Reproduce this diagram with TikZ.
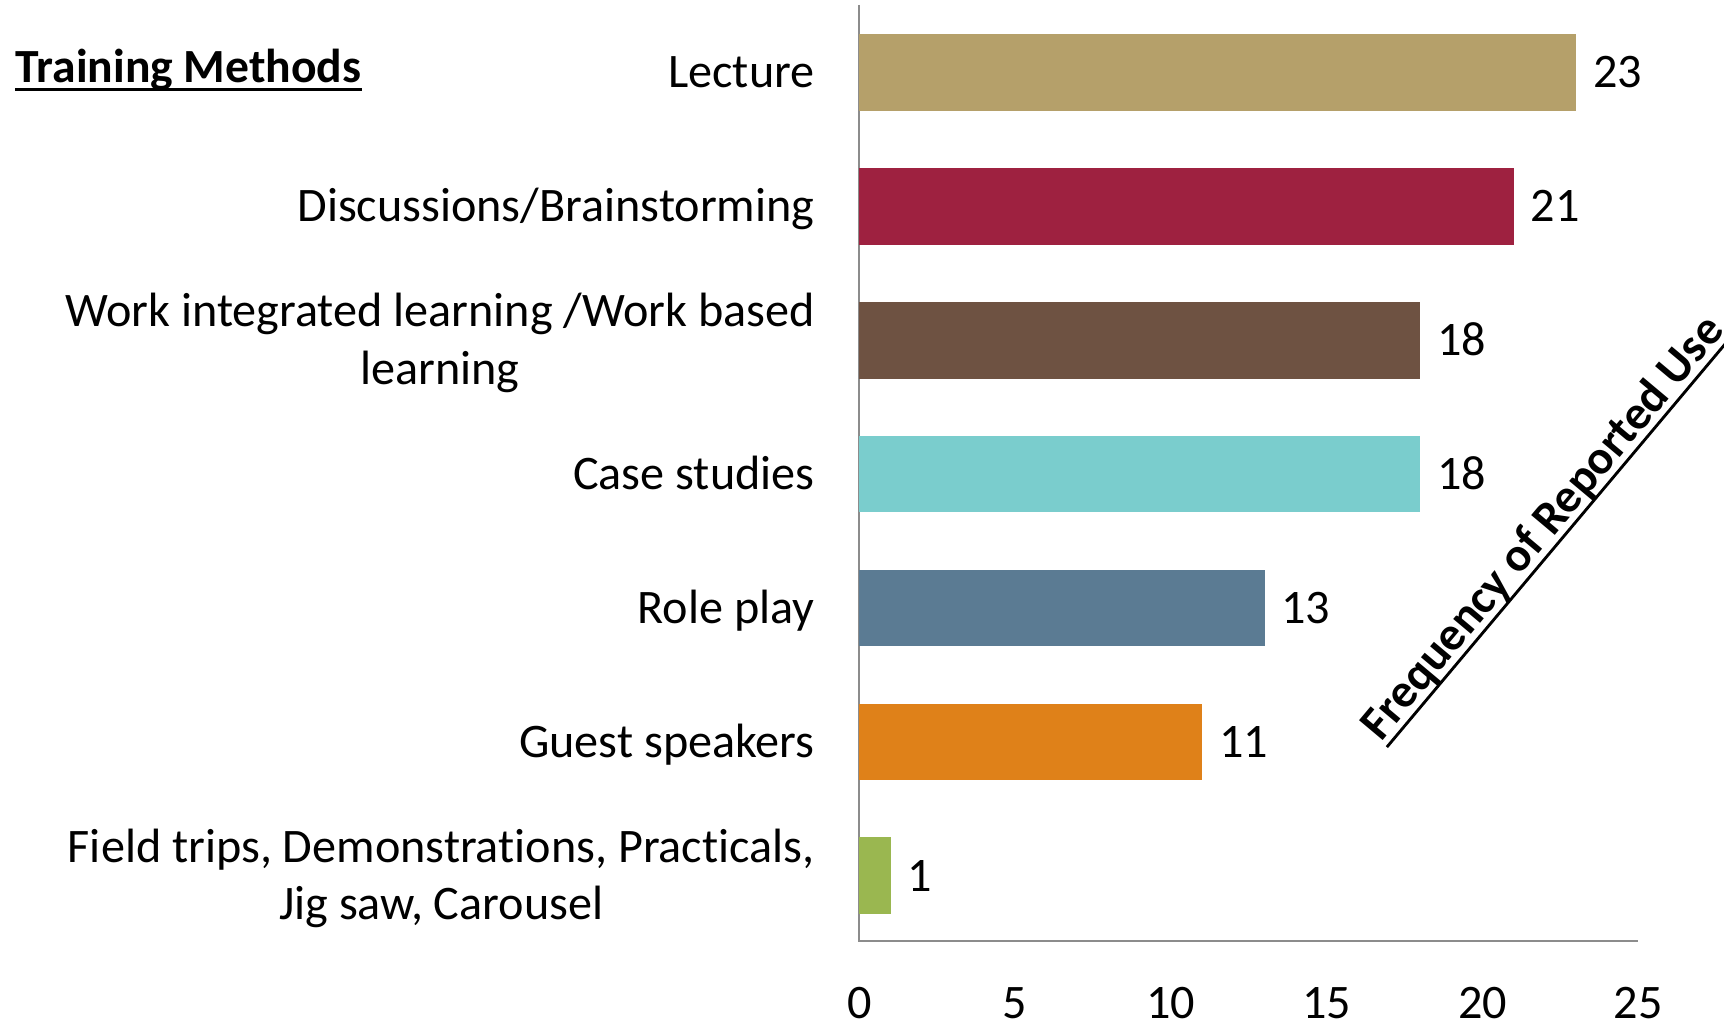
\documentclass[tikz,border=0pt]{standalone}
\usepackage{fontspec}
\setmainfont[Ligatures=NoCommon]{Carlito}
\newcommand{\lstrut}{\rule[-12pt]{0pt}{52pt}}
\newcommand{\fsz}{\fontsize{43.8}{52}\selectfont}
\newcommand{\fszb}{\fontsize{43.3}{52}\selectfont\bfseries}
\definecolor{cLect}{HTML}{B5A06A}
\definecolor{cDisc}{HTML}{9E2140}
\definecolor{cWil}{HTML}{6E5242}
\definecolor{cCase}{HTML}{7ACDCD}
\definecolor{cRole}{HTML}{5B7B93}
\definecolor{cGuest}{HTML}{DF8119}
\definecolor{cField}{HTML}{9AB750}
\definecolor{axisgray}{HTML}{8C8C8C}
\begin{document}
\begin{tikzpicture}[x=1pt,y=1pt,
  txt/.style={inner sep=0pt, font=\fsz},
  cat/.style={txt, anchor=east, align=center},
  val/.style={txt, anchor=west},
  tick/.style={txt, anchor=base},
  bar/.style={draw=none, inner sep=0pt, minimum height=69.8pt, anchor=west}]
\useasboundingbox (0,0) rectangle (1568,-929.5);
\clip (0,0) rectangle (1568,-929.5);
\fill[white] (0,0) rectangle (1568,-929.5);
% axes
\coordinate (atop) at (781.5,-4.5);
\coordinate (aorig) at (781.5,-856);
\coordinate (aend) at (1490,-856);
\draw[axisgray, line width=1.6pt] (atop) -- (aorig) -- (aend);
% bars
\node[bar, fill=cLect,  minimum width=651.8pt] (b1) at (781.5,-65.8) {};
\node[bar, fill=cDisc,  minimum width=595.1pt] (b2) at (781.5,-187.6) {};
\node[bar, fill=cWil,   minimum width=510.1pt] (b3) at (781.5,-309.4) {};
\node[bar, fill=cCase,  minimum width=510.1pt] (b4) at (781.5,-431.2) {};
\node[bar, fill=cRole,  minimum width=368.4pt] (b5) at (781.5,-553.0) {};
\node[bar, fill=cGuest, minimum width=311.7pt] (b6) at (781.5,-674.8) {};
\node[bar, fill=cField, minimum width=28.3pt]  (b7) at (781.5,-796.6) {};
% value labels
\node[val] (v1) at ([xshift=15pt]b1.east) {\lstrut 23};
\node[val] (v2) at ([xshift=15pt]b2.east) {\lstrut 21};
\node[val] (v3) at ([xshift=15pt]b3.east) {\lstrut 18};
\node[val] (v4) at ([xshift=15pt]b4.east) {\lstrut 18};
\node[val] (v5) at ([xshift=15pt]b5.east) {\lstrut 13};
\node[val] (v6) at ([xshift=15pt]b6.east) {\lstrut 11};
\node[val] (v7) at ([xshift=15pt]b7.east) {\lstrut 1};
% category labels
\node[cat] (l1) at (741,-65.8) {\lstrut Lecture};
\node[cat] (l2) at (741,-187.6) {\lstrut Discussions/Brainstorming};
\node[cat] (l3) at (741,-309.4) {\lstrut Work integrated learning /Work based\\\lstrut learning};
\node[cat] (l4) at (741,-431.2) {\lstrut Case studies};
\node[cat] (l5) at (741,-553.0) {\lstrut Role play};
\node[cat] (l6) at (741,-674.8) {\lstrut Guest speakers};
\node[cat] (l7) at (741,-796.6) {\lstrut Field trips, Demonstrations, Practicals,\\\lstrut Jig saw, Carousel};
% ticks
\node[tick] (t0) at (781.5,-926) {0};
\node[tick] (t1) at (923.2,-926) {5};
\node[tick] (t2) at (1064.9,-926) {10};
\node[tick] (t3) at (1206.6,-926) {15};
\node[tick] (t4) at (1348.3,-926) {20};
\node[tick] (t5) at (1490,-926) {25};
% title
\node[txt, anchor=base west, font=\fszb] (title) at (14,-75) {Training Methods};
\draw[line width=2.3pt] ([yshift=-6.4pt]title.base west) -- ([yshift=-6.4pt]title.base east);
% diagonal axis title
\begin{scope}[shift={(1256,-675)}, rotate=50, transform shape]
  \node[txt, anchor=base west, font=\fszb] (freq) at (0,0) {Frequency of Reported Use};
  \coordinate (ul1) at (0,-7);
  \coordinate (ul2) at (650,-7);
  \draw[line width=2.6pt] (ul1) -- (ul2);
\end{scope}
\end{tikzpicture}
\end{document}
